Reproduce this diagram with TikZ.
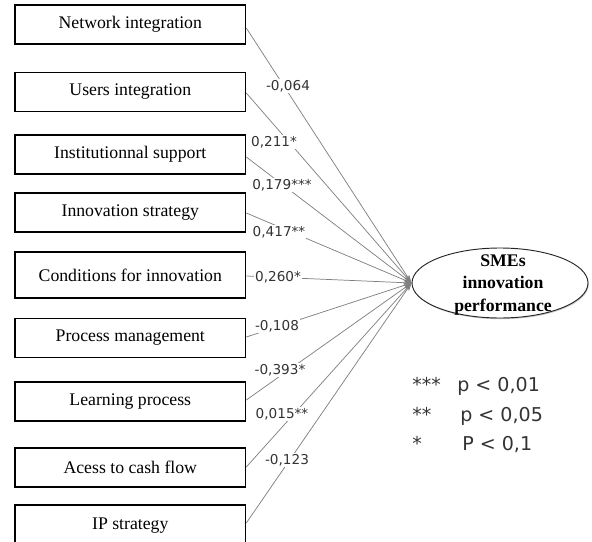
\documentclass[tikz,border=0pt]{standalone}
\usepackage{fontspec}
\setmainfont{Liberation Serif}
\newfontfamily\labfont{DejaVu Sans}
\usetikzlibrary{arrows.meta,shapes.geometric,shadows}

\tikzset{
  factor/.style={draw=black, line width=1.1pt, minimum width=172.9pt,
    minimum height=29.25pt, inner sep=0pt, font=\fontsize{13.3}{15}\selectfont},
  outcome/.style={ellipse, draw=black!85, line width=0.7pt, fill=white,
    minimum width=132pt, minimum height=52.5pt, inner sep=0pt,
    align=center, font=\fontsize{13.3}{17.2}\selectfont\bfseries,
    drop shadow={shadow xshift=0.6pt, shadow yshift=-0.9pt, fill=black!45}},
  path/.style={draw=black!50, line width=0.55pt,
    -{Stealth[length=6pt,width=3.6pt]}},
  coef/.style={fill=white, inner sep=0.8pt, text=black!80,
    font=\labfont\fontsize{10.2}{12}\selectfont},
  legend/.style={anchor=base west, inner sep=0pt, text=black!80,
    font=\labfont\fontsize{14.3}{16}\selectfont}
}

\begin{document}
\begin{tikzpicture}[x=0.75pt,y=-0.75pt]
  \useasboundingbox (0,0) rectangle (592,542);

  % explanatory factors
  \node[factor] (net)  at (130.3,24.5)  {Network integration};
  \node[factor] (usr)  at (130.3,92)    {Users integration};
  \node[factor] (inst) at (130.3,154.5) {Institutionnal support};
  \node[factor] (strat) at (130.3,212.5) {Innovation strategy};
  \node[factor, minimum height=34.5pt] (cond) at (130.3,275) {Conditions for innovation};
  \node[factor] (proc) at (130.3,338)   {Process management};
  \node[factor] (learn) at (130.3,401.5) {Learning process};
  \node[factor] (cash) at (130.3,467.5) {Acess to cash flow};
  \node[factor, minimum height=30.75pt] (ip) at (130.3,525.5) {IP strategy};

  % dependent construct
  \node[outcome] (perf) at (500,283) {};
  \node[align=center, inner sep=0pt, font=\fontsize{13.3}{17.2}\selectfont\bfseries]
    (perftext) at (503,285) {SMEs\\innovation\\performance};

  % structural paths
  \foreach \src/\dy in {net/-3.5, usr/-1, inst/-2.5, strat/-0.5, cond/-1,
                        proc/1, learn/1.5, cash/0.5, ip/2.5}
    \draw[path] ([yshift=\dy*0.75pt]\src.east) -- (perf.west);

  % path coefficients
  \node[coef] (c1) at (288,86)  {-0,064};
  \node[coef] (c2) at (274,142) {0,211*};
  \node[coef] (c3) at (282,185) {0,179***};
  \node[coef] (c4) at (279,232) {0,417**};
  \node[coef] (c5) at (278,277) {0,260*};
  \node[coef] (c6) at (277,326) {-0,108};
  \node[coef] (c7) at (280,370) {-0,393*};
  \node[coef] (c8) at (282,414) {0,015**};
  \node[coef] (c9) at (287,460) {-0,123};

  % significance levels
  \node[legend] (s1) at (412,391) {***};
  \node[legend] (p1) at (457,391) {p < 0,01};
  \node[legend] (s2) at (412,421) {**};
  \node[legend] (p2) at (460,421) {p < 0,05};
  \node[legend] (s3) at (412,450) {*};
  \node[legend] (p3) at (462,450) {P < 0,1};
\end{tikzpicture}
\end{document}
